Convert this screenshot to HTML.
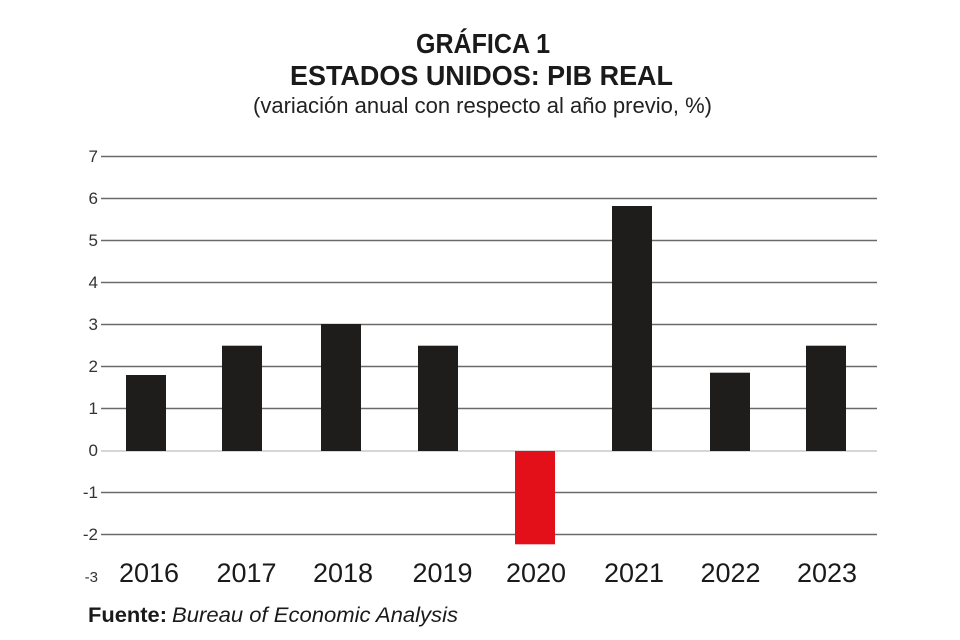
<!DOCTYPE html>
<html><head><meta charset="utf-8"><style>
html,body{margin:0;padding:0;background:#fff;}
svg{display:block;}
</style></head><body>
<svg width="960" height="640" viewBox="0 0 960 640" xmlns="http://www.w3.org/2000/svg" font-family="Liberation Sans, sans-serif">
<rect width="960" height="640" fill="#fff"/>
<!-- titles -->
<text x="483" y="53" font-size="28" font-weight="bold" fill="#1a1a1a" text-anchor="middle" textLength="134" lengthAdjust="spacingAndGlyphs">GRÁFICA 1</text>
<text x="481.5" y="85" font-size="28" font-weight="bold" fill="#1a1a1a" text-anchor="middle" textLength="383" lengthAdjust="spacingAndGlyphs">ESTADOS UNIDOS: PIB REAL</text>
<text x="482.5" y="113" font-size="22" fill="#222" text-anchor="middle" textLength="459" lengthAdjust="spacingAndGlyphs">(variación anual con respecto al año previo, %)</text>
<!-- gridlines -->
<g stroke="#6a6a6a" stroke-width="1.5">
<line x1="101" y1="156.5" x2="877" y2="156.5"/>
<line x1="101" y1="198.5" x2="877" y2="198.5"/>
<line x1="101" y1="240.5" x2="877" y2="240.5"/>
<line x1="101" y1="282.5" x2="877" y2="282.5"/>
<line x1="101" y1="324.5" x2="877" y2="324.5"/>
<line x1="101" y1="366.5" x2="877" y2="366.5"/>
<line x1="101" y1="408.5" x2="877" y2="408.5"/>
<line x1="101" y1="492.5" x2="877" y2="492.5"/>
<line x1="101" y1="534.5" x2="877" y2="534.5"/>
</g>
<line x1="101" y1="451" x2="877" y2="451" stroke="#c8c8c8" stroke-width="1.5"/>
<!-- tick labels -->
<g font-size="17" fill="#333" text-anchor="end">
<text x="98" y="162">7</text>
<text x="98" y="204">6</text>
<text x="98" y="246">5</text>
<text x="98" y="288">4</text>
<text x="98" y="330">3</text>
<text x="98" y="372">2</text>
<text x="98" y="414">1</text>
<text x="98" y="456">0</text>
<text x="98" y="498">-1</text>
<text x="98" y="540">-2</text>
<text x="98" y="582" font-size="15">-3</text>
</g>
<!-- bars -->
<g fill="#1e1d1b">
<rect x="126" y="375" width="40" height="76"/>
<rect x="222" y="345.7" width="40" height="105.3"/>
<rect x="321" y="324" width="40" height="127"/>
<rect x="418" y="345.7" width="40" height="105.3"/>
<rect x="612" y="206" width="40" height="245"/>
<rect x="710" y="372.7" width="40" height="78.3"/>
<rect x="806" y="345.7" width="40" height="105.3"/>
</g>
<rect x="515" y="451" width="40" height="93.3" fill="#e3101a"/>
<!-- year labels -->
<g font-size="27" fill="#1a1a1a" text-anchor="middle">
<text x="149" y="582">2016</text>
<text x="246.5" y="582">2017</text>
<text x="343" y="582">2018</text>
<text x="442.5" y="582">2019</text>
<text x="536" y="582">2020</text>
<text x="634" y="582">2021</text>
<text x="730.5" y="582">2022</text>
<text x="827" y="582">2023</text>
</g>
<!-- source -->
<text x="88" y="622" font-size="21" font-weight="bold" fill="#1a1a1a" textLength="79" lengthAdjust="spacingAndGlyphs">Fuente:</text>
<text x="172" y="622" font-size="21" font-style="italic" fill="#1a1a1a" textLength="286" lengthAdjust="spacingAndGlyphs">Bureau of Economic Analysis</text>
</svg>
</body></html>
